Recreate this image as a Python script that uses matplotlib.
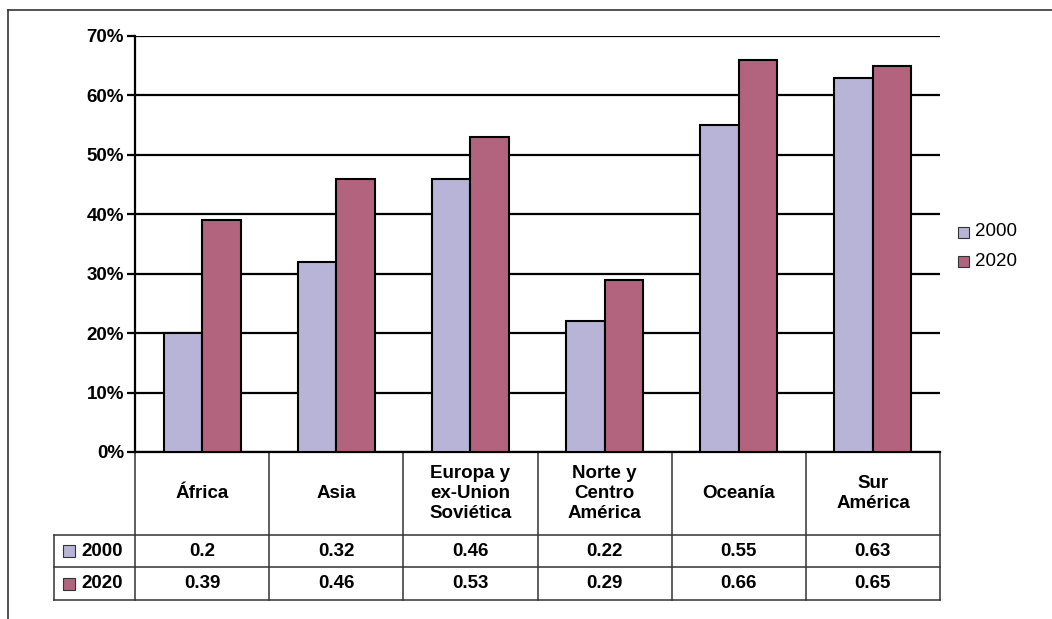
import numpy as np
import matplotlib
matplotlib.use("Agg")
from matplotlib import pyplot as plt
from matplotlib.lines import Line2D
from matplotlib.patches import Rectangle

# donnees
regiones = ["África", "Asia", "Europa y\nex-Union\nSoviética", "Norte y\nCentro\nAmérica",
            "Oceanía", "Sur\nAmérica"]
anios = ["2000", "2020"]
valores_2000 = [0.20, 0.32, 0.46, 0.22, 0.55, 0.63]
valores_2020 = [0.39, 0.46, 0.53, 0.29, 0.66, 0.65]
ticks_y = [0.0, 0.1, 0.2, 0.3, 0.4, 0.5, 0.6, 0.7]

colores = ["#B8B4D7", "#B2647F"]
plt.rcParams['font.family'] = ['Liberation Sans', 'DejaVu Sans']
fs = 13.5

W, H = 1052, 619
fig = plt.figure(figsize=(W / 100, H / 100), dpi=100)

# zone du graphique en pixels
x0, x1, ytop, ybot = 135, 940, 36, 452
ax = fig.add_axes([x0 / W, 1 - ybot / H, (x1 - x0) / W, (ybot - ytop) / H])

x = np.arange(len(regiones))
larg = 0.287
ax.bar(x - larg / 2, valores_2000, larg, color=colores[0], edgecolor="black", linewidth=1.5, zorder=3)
ax.bar(x + larg / 2, valores_2020, larg, color=colores[1], edgecolor="black", linewidth=1.5, zorder=3)

ax.set_xlim(-0.5, len(regiones) - 0.5)
ax.set_ylim(0, 0.7)
ax.set_yticks(ticks_y)
ax.set_yticklabels([f"{int(round(t * 100))}%" for t in ticks_y], fontsize=fs, fontweight="bold")
ax.set_xticks([])
ax.yaxis.grid(True, color="black", linewidth=1.6, zorder=0)
ax.tick_params(axis="y", length=6, width=1.6, pad=2)
for s in ["top", "right"]:
    ax.spines[s].set_visible(False)
ax.spines["left"].set_linewidth(1.6)
ax.spines["bottom"].set_linewidth(1.6)

# tableau de donnees sous l'axe (coordonnees de l'axe)
ph = ybot - ytop
pw = x1 - x0
def ya(py):
    return (ybot - py) / ph
def xa(px):
    return (px - x0) / pw

y_cat, y_r1, y_r2 = ya(535), ya(567), ya(600)
x_lab = xa(54)
col_tabla = "#333333"
lw_t = 1.1

def linea(xs, ys):
    ax.add_line(Line2D(xs, ys, transform=ax.transAxes, color=col_tabla,
                       linewidth=lw_t, clip_on=False))

n = len(regiones)
for i in range(n + 1):
    linea([i / n, i / n], [0, y_r2])
linea([x_lab, 1], [y_cat, y_cat])
linea([x_lab, 1], [y_r1, y_r1])
linea([x_lab, 1], [y_r2, y_r2])
linea([x_lab, x_lab], [y_cat, y_r2])

for i, reg in enumerate(regiones):
    xc = (i + 0.5) / n
    ax.text(xc, y_cat / 2, reg, transform=ax.transAxes, ha="center", va="center",
            fontsize=fs, fontweight="bold", linespacing=1.2)
    ax.text(xc, (y_cat + y_r1) / 2, f"{valores_2000[i]:g}", transform=ax.transAxes,
            ha="center", va="center", fontsize=fs, fontweight="bold")
    ax.text(xc, (y_r1 + y_r2) / 2, f"{valores_2020[i]:g}", transform=ax.transAxes,
            ha="center", va="center", fontsize=fs, fontweight="bold")

# cles de legende dans le tableau
for k, (yc, anio) in enumerate([((y_cat + y_r1) / 2, anios[0]), ((y_r1 + y_r2) / 2, anios[1])]):
    sq = 12 / ph
    ax.add_patch(Rectangle((xa(63), yc - sq / 2), 12 / pw, sq, transform=ax.transAxes,
                           facecolor=colores[k], edgecolor="#333333", linewidth=0.8, clip_on=False))
    ax.text(xa(81), yc, anio, transform=ax.transAxes, ha="left", va="center",
            fontsize=fs, fontweight="bold")

# legende a droite
for k, (py, anio) in enumerate([(232, anios[0]), (261, anios[1])]):
    fig.patches.append(Rectangle((958 / W, 1 - (py + 6) / H), 11 / W, 11 / H, transform=fig.transFigure,
                                 facecolor=colores[k], edgecolor="#333333", linewidth=0.8))
    fig.text(975 / W, 1 - py / H, anio, ha="left", va="center", fontsize=fs)

# cadre exterieur
fig.add_artist(Line2D([8 / W, 8 / W], [0, 1 - 10 / H], transform=fig.transFigure, color="#333333", linewidth=1.2))
fig.add_artist(Line2D([8 / W, 1], [1 - 10 / H, 1 - 10 / H], transform=fig.transFigure, color="#333333", linewidth=1.2))

fig.savefig("out.png", dpi=100)
